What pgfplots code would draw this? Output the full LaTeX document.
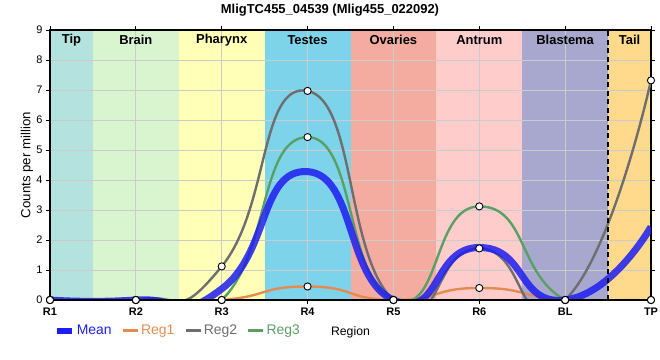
\documentclass[border=0pt]{standalone}
\usepackage{pgfplots}
\pgfplotsset{compat=1.18}
\usepackage{pgfplotstable}
\usepackage{fontspec}
\setmainfont{Liberation Sans}
\definecolor{tipc}{RGB}{180,226,222}
\definecolor{brainc}{RGB}{216,245,208}
\definecolor{pharc}{RGB}{255,255,184}
\definecolor{testc}{RGB}{125,211,234}
\definecolor{ovac}{RGB}{245,172,160}
\definecolor{antc}{RGB}{255,204,204}
\definecolor{blac}{RGB}{168,168,206}
\definecolor{tailc}{RGB}{255,218,140}
\definecolor{meanc}{RGB}{30,30,240}
\definecolor{reg1c}{RGB}{228,140,80}
\definecolor{reg2c}{RGB}{110,110,110}
\definecolor{reg3c}{RGB}{90,160,100}
\definecolor{gridc}{RGB}{204,204,204}
\pgfplotstableread{
x y
0 0
1 0
2 0
3 0.45
4 0
5 0.40
6 0
7 0
}\regone
\pgfplotstableread{
x y
0 0
1 0
2 1.12
3 6.97
4 0
5 1.72
6 0
7 7.32
}\regtwo
\pgfplotstableread{
x y
0 0
1 0
2 0
3 5.43
4 0
5 3.12
6 0
7 0
}\regthree
\pgfplotstableread{
x y
0 0
1 0
2 0.37
3 4.28
4 0
5 1.75
6 0
7 2.44
}\meantab
\begin{document}
\begin{tikzpicture}
\begin{axis}[
  set layers=standard,
  scale only axis, width=601bp, height=270bp,
  xmin=0, xmax=7, ymin=0, ymax=9,
  xtick={0,...,7}, xticklabels={R1,R2,R3,R4,R5,R6,BL,TP},
  ytick={0,...,9},
  grid=major, grid style={color=gridc, line width=0.9bp},
  tick align=outside, major tick length=4bp,
  tick style={black, line width=1bp},
  axis line style={black, line width=1.3bp},
  /pgf/number format/assume math mode=true,
  yticklabel style={font=\fontsize{11}{12}\selectfont},
  xticklabel style={font=\fontsize{11}{12}\selectfont\bfseries},
  title={MligTC455\_04539 (Mlig455\_022092)},
  title style={at={(axis description cs:0.5,1)}, anchor=base, yshift=11bp, xshift=-20.5bp, font=\fontsize{13}{15}\selectfont\bfseries},
  ylabel={Counts per million},
  ylabel style={at={(axis description cs:-0.0383,0.5)}, anchor=center, font=\fontsize{13.3}{15}\selectfont},
  xlabel={Region},
  xlabel style={at={(axis description cs:0.5,-0.1185)}, anchor=center, font=\fontsize{12.3}{14}\selectfont},
  legend columns=-1,
  legend style={draw=none, fill=none, at={(axis description cs:0.006,-0.113)}, anchor=west,
    font=\fontsize{14}{16}\selectfont, inner sep=0pt,
    /tikz/every even column/.append style={column sep=8bp}},
  legend image code/.code={\draw[#1] (0bp,0bp) -- (15bp,0bp);},
]
\begin{pgfonlayer}{axis background}
\fill[tipc] (axis cs:0,0) rectangle (axis cs:0.5,9);
\fill[brainc] (axis cs:0.5,0) rectangle (axis cs:1.5,9);
\fill[pharc] (axis cs:1.5,0) rectangle (axis cs:2.5,9);
\fill[testc] (axis cs:2.5,0) rectangle (axis cs:3.5,9);
\fill[ovac] (axis cs:3.5,0) rectangle (axis cs:4.5,9);
\fill[antc] (axis cs:4.5,0) rectangle (axis cs:5.5,9);
\fill[blac] (axis cs:5.5,0) rectangle (axis cs:6.5,9);
\fill[tailc] (axis cs:6.5,0) rectangle (axis cs:7,9);
\end{pgfonlayer}
\addlegendimage{meanc, line width=6bp}
\addlegendentry{\textcolor{meanc}{Mean}}
\addlegendimage{reg1c, line width=2.4bp}
\addlegendentry{\textcolor{reg1c}{Reg1}}
\addlegendimage{reg2c, line width=2.4bp}
\addlegendentry{\textcolor{reg2c}{Reg2}}
\addlegendimage{reg3c, line width=2.4bp}
\addlegendentry{\textcolor{reg3c}{Reg3}}
\addplot[forget plot, reg1c, line width=2.4bp, smooth, tension=1] table {\regone};
\addplot[forget plot, reg2c, line width=2.4bp, smooth, tension=1] table {\regtwo};
\addplot[forget plot, reg3c, line width=2.4bp, smooth, tension=1] table {\regthree};
\addplot[forget plot, meanc, line width=7bp, opacity=0.85, smooth, tension=1] table {\meantab};
\addplot[forget plot, only marks, mark=*, mark size=3.6bp, mark options={fill=white, draw=black, line width=0.9bp}] table {\regone};
\addplot[forget plot, only marks, mark=*, mark size=3.6bp, mark options={fill=white, draw=black, line width=0.9bp}] table {\regtwo};
\addplot[forget plot, only marks, mark=*, mark size=3.6bp, mark options={fill=white, draw=black, line width=0.9bp}] table {\regthree};
\draw[black, line width=2.4bp, dash pattern=on 5bp off 3.5bp] (axis cs:6.5,0) -- (axis cs:6.5,9);
\draw[black, line width=2.6bp] (rel axis cs:0,0) -- (rel axis cs:0,1);
\draw[black, line width=2.6bp] (rel axis cs:0,0) -- (rel axis cs:1,0);
\begin{scope}[font=\fontsize{13}{15}\selectfont\bfseries]
\node at (axis cs:0.25,8.67) {Tip};
\node at (axis cs:1,8.67) {Brain};
\node at (axis cs:2,8.67) {Pharynx};
\node at (axis cs:3,8.67) {Testes};
\node at (axis cs:4,8.67) {Ovaries};
\node at (axis cs:5,8.67) {Antrum};
\node at (axis cs:6,8.67) {Blastema};
\node at (axis cs:6.75,8.67) {Tail};
\end{scope}
\end{axis}
\pgfresetboundingbox
\path[use as bounding box] (-50bp,-60bp) rectangle (610bp,300bp);
\end{tikzpicture}
\end{document}
